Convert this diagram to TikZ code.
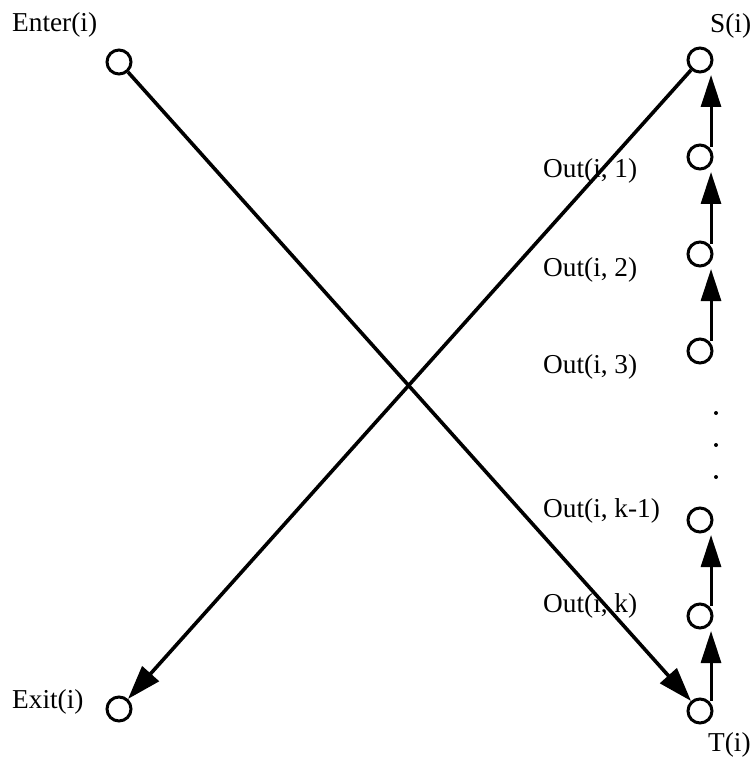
\documentclass[tikz,border=0pt]{standalone}
\usepackage{fontspec}
\setmainfont{Liberation Serif}
\usetikzlibrary{calc,arrows.meta}
\begin{document}
\begin{tikzpicture}[x=1pt,y=-1pt,
  vertex/.style={circle,draw,line width=3pt,minimum size=24pt,inner sep=0pt},
  lbl/.style={anchor=base west,inner sep=0pt,font=\fontsize{27.3}{30}\selectfont},
  cross/.style={line width=3.6pt,-{Triangle[length=34pt,width=22pt]}},
  uparrow/.style={line width=3pt,-{Triangle[length=32pt,width=20pt]}},
  dotmark/.style={circle,fill,inner sep=0pt,minimum size=4pt}]
\useasboundingbox (0,0) rectangle (753,759);

% vertices
\node[vertex] (enter) at (119,62) {};
\node[vertex] (exit) at (119,709) {};
\node[vertex] (s) at (700,60) {};
\node[vertex] (o1) at (700,157) {};
\node[vertex] (o2) at (700,254) {};
\node[vertex] (o3) at (700,351) {};
\node[vertex] (ok1) at (700,520) {};
\node[vertex] (ok) at (700,616) {};
\node[vertex] (t) at (700,711) {};

% vertical ellipsis
\node[dotmark] (d1) at (716,413) {};
\node[dotmark] (d2) at (716,445) {};
\node[dotmark] (d3) at (716,477) {};

% labels
\node[lbl] (lenter) at (12,32) {Enter(i)};
\node[lbl] (lexit) at (12,708) {Exit(i)};
\node[lbl] (ls) at (710,33) {S(i)};
\node[lbl] (lt) at (708,751) {T(i)};
\node[lbl] (lo1) at (543,178) {Out(i, 1)};
\node[lbl] (lo2) at (543,276) {Out(i, 2)};
\node[lbl] (lo3) at (543,373) {Out(i, 3)};
\node[lbl] (lok1) at (543,517) {Out(i, k-1)};
\node[lbl] (lok) at (543,612) {Out(i, k)};

% crossing arcs
\draw[cross] (enter) -- (t);
\draw[cross] (s) -- (exit);

% chain of upward arcs
\draw[uparrow] ($(o1.center)+(11,-10)$) -- ($(s.center)+(11,15)$);
\draw[uparrow] ($(o2.center)+(11,-10)$) -- ($(o1.center)+(11,15)$);
\draw[uparrow] ($(o3.center)+(11,-10)$) -- ($(o2.center)+(11,15)$);
\draw[uparrow] ($(ok.center)+(11,-10)$) -- ($(ok1.center)+(11,15)$);
\draw[uparrow] ($(t.center)+(11,-10)$) -- ($(ok.center)+(11,15)$);
\end{tikzpicture}
\end{document}
